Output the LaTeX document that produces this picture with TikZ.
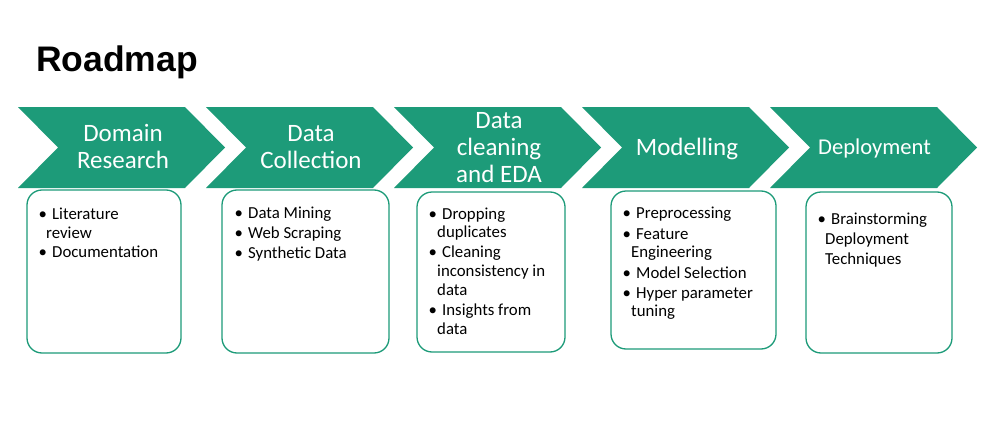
\documentclass[tikz,border=0pt]{standalone}
\usepackage{fontspec}
\setmainfont{Carlito}
\newfontfamily\titlefont{Liberation Sans}
\definecolor{rmgreen}{RGB}{29,155,121}
\tikzset{
  chev/.style={fill=rmgreen},
  chevtext/.style={text=white, align=center, inner sep=0pt, font=\fontsize{25}{27}\selectfont},
  itembox/.style={draw=rmgreen, line width=1.3pt, fill=white, rounded corners=15pt, inner sep=0pt},
  item/.style={anchor=base west, inner sep=0pt, font=\fontsize{16.8}{20}\selectfont, text=black},
}
\newcommand{\bul}[1]{\makebox[11pt][l]{\hspace{-2.5pt}•}#1}
\begin{document}
\begin{tikzpicture}[x=1pt,y=-1pt]
\fill[white] (0,0) rectangle (986,423);
\useasboundingbox (0,0) rectangle (986,423);

\node[anchor=base west, inner sep=0pt, font=\titlefont\bfseries\fontsize{35.5}{40}\selectfont] (title) at (36,71.5) {Roadmap};

% chevrons
\foreach \L in {18,206,394,582,770}{
  \fill[chev] (\L,107) -- (\L+167,107) -- (\L+207,147.5) -- (\L+167,188) -- (\L,188) -- (\L+40,147.5) -- cycle;
}
\node[chevtext] (c1) at (123,146.5) {Domain\\Research};
\node[chevtext] (c2) at (311,147) {Data\\Collection};
\node[chevtext] (c3) at (499,147.5) {Data\\cleaning\\and EDA};
\node[chevtext] (c4) at (687,148.5) {Modelling};
\node[chevtext, font=\fontsize{22.6}{27}\selectfont] (c5) at (874.5,148) {Deployment};

% boxes
\node[itembox, minimum width=154pt, minimum height=163pt] (b1) at (104,271.5) {};
\node[itembox, minimum width=167pt, minimum height=163pt] (b2) at (305.5,271.5) {};
\node[itembox, minimum width=148pt, minimum height=160pt] (b3) at (491,272) {};
\node[itembox, minimum width=165pt, minimum height=158pt] (b4) at (693.5,270) {};
\node[itembox, minimum width=146pt, minimum height=161pt] (b5) at (879,272.5) {};

% box 1
\node[item] (t11) at (41,219.5) {\bul{Literature}};
\node[item] (t12) at (46,238) {review};
\node[item] (t13) at (41,257.5) {\bul{Documentation}};
% box 2
\node[item] (t21) at (237,218.5) {\bul{Data Mining}};
\node[item] (t22) at (237,238.5) {\bul{Web Scraping}};
\node[item] (t23) at (237,258.5) {\bul{Synthetic Data}};
% box 3
\node[item] (t31) at (431,219) {\bul{Dropping}};
\node[item] (t32) at (437,237) {duplicates};
\node[item] (t33) at (431,257) {\bul{Cleaning}};
\node[item] (t34) at (437,276) {inconsistency in};
\node[item] (t35) at (437,295) {data};
\node[item] (t36) at (431,315) {\bul{Insights from}};
\node[item] (t37) at (437,334) {data};
% box 4
\node[item] (t41) at (625,218.5) {\bul{Preprocessing}};
\node[item] (t42) at (625,239) {\bul{Feature}};
\node[item] (t43) at (631,257) {Engineering};
\node[item] (t44) at (625,278) {\bul{Model Selection}};
\node[item] (t45) at (625,298) {\bul{Hyper parameter}};
\node[item] (t46) at (631,316) {tuning};
% box 5
\node[item] (t51) at (820,224.5) {\bul{Brainstorming}};
\node[item] (t52) at (825,244.5) {Deployment};
\node[item] (t53) at (825,264.5) {Techniques};
\end{tikzpicture}
\end{document}
